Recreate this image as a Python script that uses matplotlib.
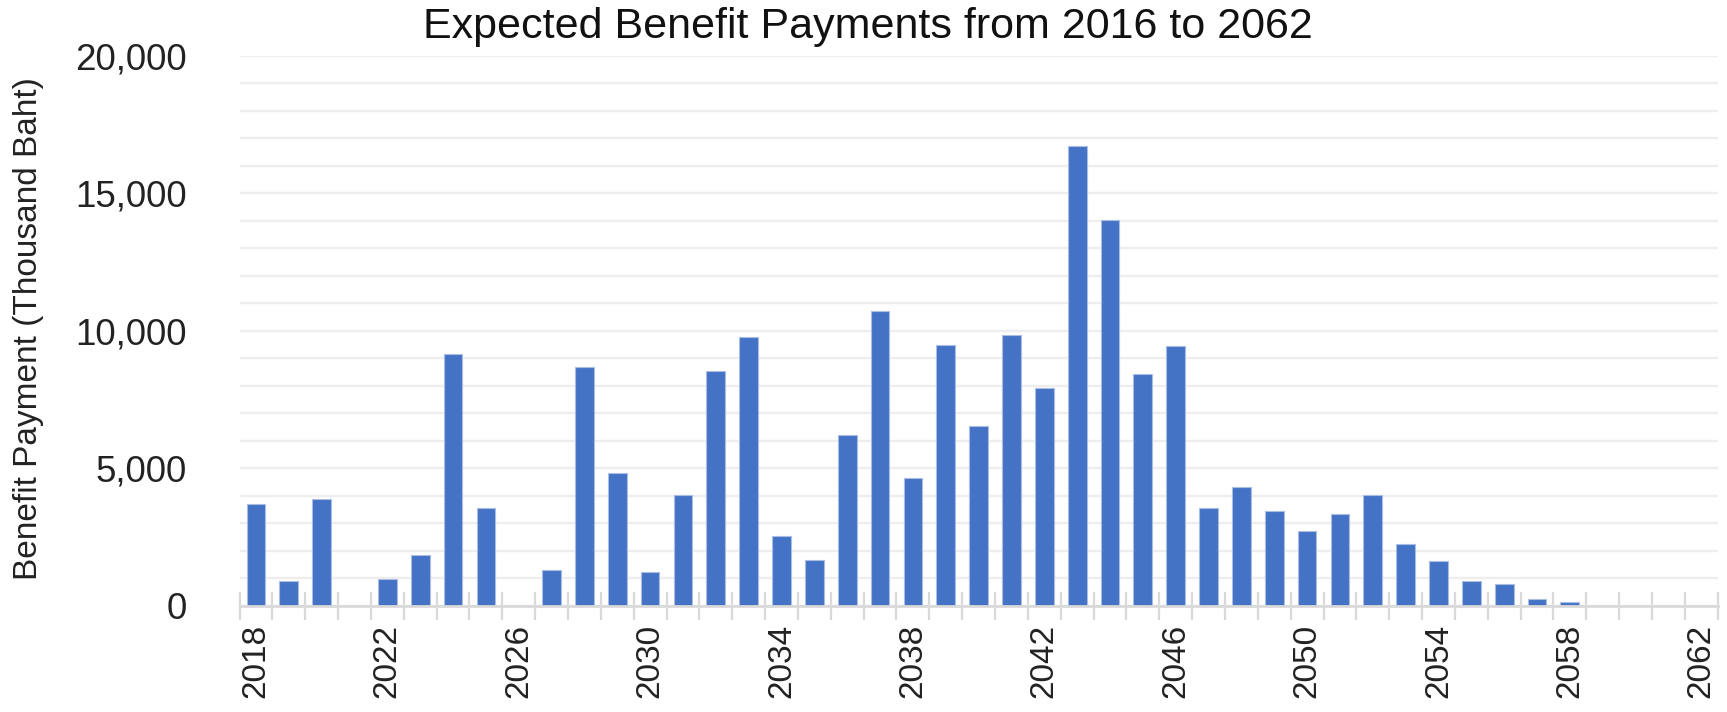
import matplotlib.pyplot as plt
from matplotlib.ticker import FuncFormatter, MultipleLocator
import numpy as np

plt.rcParams['font.family'] = ['Liberation Sans', 'DejaVu Sans']

years = list(range(2018, 2063))
payments = [3710, 910, 3870, 0, 960, 1830, 9160, 3540, 0, 1290,
            8670, 4820, 1240, 4040, 8550, 9770, 2550, 1670, 6200, 10710,
            4650, 9490, 6530, 9830, 7900, 16700, 14010, 8440, 9440, 3540,
            4310, 3430, 2720, 3330, 4040, 2230, 1610, 910, 800, 240,
            130, 0, 0, 0, 0]
label_years = list(range(2018, 2063, 4))

fig = plt.figure(figsize=(17.27, 7.12), dpi=100)
ax = fig.add_axes([0.1387, 0.1493, 0.8559, 0.7725])

x = np.arange(len(years))
ax.bar(x, payments, width=0.57, color='#4472C4', edgecolor='#a9bde6',
       linewidth=0.8, zorder=3)

ax.set_xlim(-0.5, len(years) - 0.5)
ax.set_ylim(0, 20000)

# light horizontal grid every 1000
ax.yaxis.set_major_locator(MultipleLocator(5000))
ax.yaxis.set_minor_locator(MultipleLocator(1000))
ax.grid(axis='y', which='both', color='#eeeeee', linewidth=1.7, zorder=0)
ax.yaxis.set_major_formatter(FuncFormatter(lambda v, p: f'{int(v):,}'))
ax.tick_params(axis='y', which='both', length=0, pad=38, labelsize=26.5,
               labelcolor='#222222')

# category labels every 4 years, boundary ticks between categories
ax.set_xticks([years.index(y) for y in label_years])
ax.set_xticklabels([str(y) for y in label_years], rotation=90,
                   va='top', ha='center')
ax.set_xticks(np.arange(-0.5, len(years)), minor=True)
ax.tick_params(axis='x', which='major', length=0, pad=13, labelsize=24,
               labelcolor='#222222')
ax.tick_params(axis='x', which='minor', direction='inout', length=20,
               width=1.6, color='#d9d9d9')

for side in ['top', 'right', 'left']:
    ax.spines[side].set_visible(False)
ax.spines['bottom'].set_color('#d9d9d9')
ax.spines['bottom'].set_linewidth(2)
ax.spines['bottom'].set_zorder(4)

fig.text(0.5025, 0.947, 'Expected Benefit Payments from 2016 to 2062',
         ha='center', va='baseline', fontsize=31, color='#111111')
fig.text(29 / 1727, 1 - 329 / 712, 'Benefit Payment (Thousand Baht)',
         rotation=90, ha='center', va='center', fontsize=24,
         color='#222222')

fig.savefig('out.png', dpi=100)
